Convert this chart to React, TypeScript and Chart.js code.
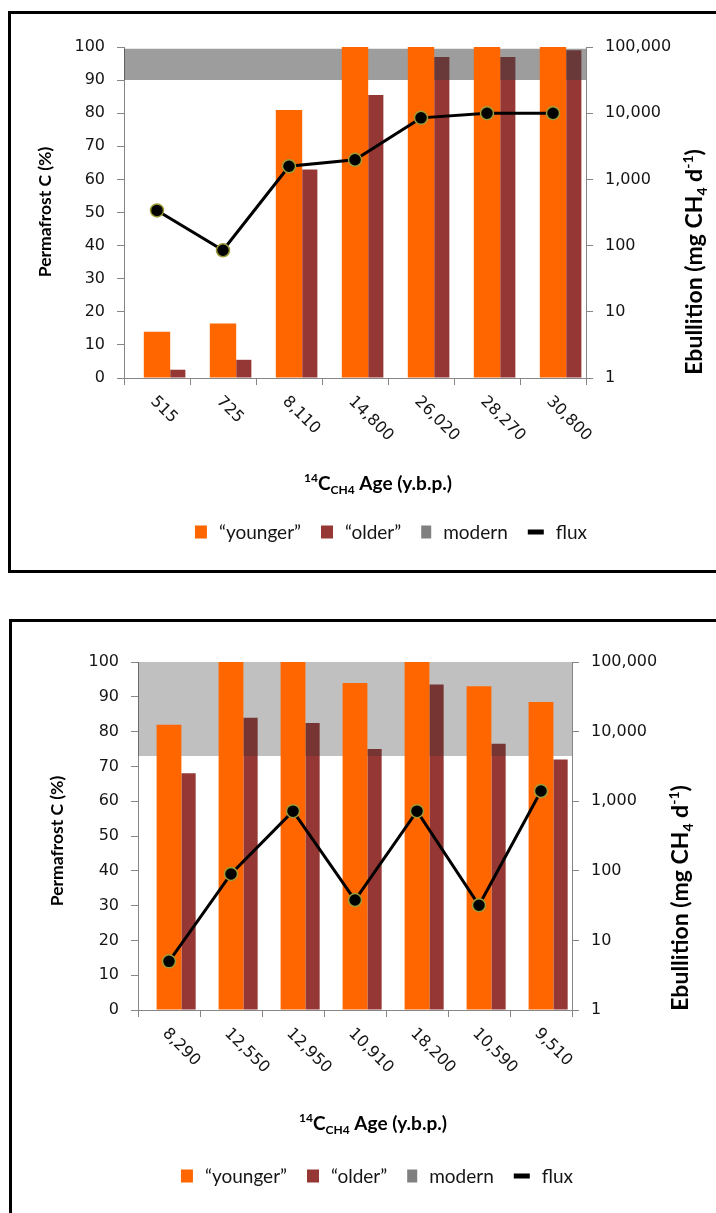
import React, { useEffect, useRef } from 'react';
import { Chart, registerables } from 'chart.js';

Chart.register(...registerables);
Chart.defaults.font.family = 'Lato';

// ---- Panel A ----
const topAges = ['515', '725', '8,110', '14,800', '26,020', '28,270', '30,800'];
const topYounger = [14, 16.5, 81, 100, 100, 100, 100];
const topOlder = [2.5, 5.5, 63, 85.5, 97, 97, 99];
const topModern = [90, 99.5]; // modern-carbon band, low / high (%)
const topFlux = [340, 85, 1580, 1980, 8500, 10000, 10000];

// ---- Panel B ----
const bottomAges = ['8,290', '12,550', '12,950', '10,910', '18,200', '10,590', '9,510'];
const bottomYounger = [82, 100, 100, 94, 100, 93, 88.5];
const bottomOlder = [68, 84, 82.5, 75, 93.5, 76.5, 72];
const bottomModern = [73, 100];
const bottomFlux = [5, 90, 720, 38, 720, 32, 1400];

const percentRange = [0, 100];
const percentStep = 10;
const fluxTicks = [1, 10, 100, 1000, 10000, 100000];
const seriesLabels = ['\u201Cyounger\u201D', '\u201Colder\u201D', 'modern', 'flux'];

const ORANGE = '#ff6600';
const MAROON = '#953735';
const AXIS = '#868686';
const TEXT = '#151515';
const TICK_FONT = 'DejaVu Sans';
const legendSwatches = [ORANGE, MAROON, '#808080', '#000000'];

type Seg = { t: string; pos?: 'sup' | 'sub' };
const xTitle: Seg[] = [{ t: '14', pos: 'sup' }, { t: 'C' }, { t: 'CH4', pos: 'sub' }, { t: ' Age (y.b.p.)' }];
const leftTitle: Seg[] = [{ t: 'Permafrost C (%)' }];
const rightTitle: Seg[] = [{ t: 'Ebullition (mg CH' }, { t: '4', pos: 'sub' }, { t: ' d' }, { t: '-1', pos: 'sup' }, { t: ')' }];

type Layout = {
  top: number;
  height: number;
  plotLeft: number;
  plotRight: number;
  plotTop: number;
  plotBottom: number;
  bandColor: string;
  leftTitle: [number, number];
  rightTitle: [number, number];
  xTitle: [number, number];
  legend: [number, number];
};

const WIDTH = 716;

const topLayout: Layout = {
  top: 0,
  height: 590,
  plotLeft: 124,
  plotRight: 586,
  plotTop: 47,
  plotBottom: 378,
  bandColor: 'rgba(60,60,60,0.5)',
  leftTitle: [45, 212],
  rightTitle: [694, 262],
  xTitle: [378, 483],
  legend: [391, 532],
};

const bottomLayout: Layout = {
  top: 600,
  height: 613,
  plotLeft: 138,
  plotRight: 572,
  plotTop: 62,
  plotBottom: 410,
  bandColor: 'rgba(45,45,45,0.3)',
  leftTitle: [57, 241],
  rightTitle: [680, 298],
  xTitle: [373, 523],
  legend: [377, 576],
};

function drawRich(
  ctx: CanvasRenderingContext2D,
  segs: Seg[],
  cx: number,
  cy: number,
  size: number,
  weight: string,
) {
  const small = Math.round(size * 0.62);
  const fontFor = (s: Seg) => `${weight} ${s.pos ? small : size}px Lato`;
  let total = 0;
  const widths = segs.map((s) => {
    ctx.font = fontFor(s);
    const w = ctx.measureText(s.t).width;
    total += w;
    return w;
  });
  let x = cx - total / 2;
  const base = cy + size * 0.35;
  ctx.textAlign = 'left';
  ctx.textBaseline = 'alphabetic';
  ctx.fillStyle = '#000';
  segs.forEach((s, i) => {
    ctx.font = fontFor(s);
    const dy = s.pos === 'sup' ? -size * 0.4 : s.pos === 'sub' ? size * 0.22 : 0;
    ctx.fillText(s.t, x, base + dy);
    x += widths[i];
  });
}

function makeDecorations(L: Layout, ages: string[]) {
  return {
    id: 'panelDecorations',
    afterDraw(chart: any) {
      const ctx: CanvasRenderingContext2D = chart.ctx;
      const xs = chart.scales.x;

      // rotated category labels
      ctx.save();
      ctx.font = `16px ${TICK_FONT}`;
      ctx.fillStyle = TEXT;
      ctx.textAlign = 'left';
      ctx.textBaseline = 'middle';
      xs.ticks.forEach((_: any, i: number) => {
        const px = xs.getPixelForTick(i);
        ctx.save();
        ctx.translate(px - 4, xs.top + 21);
        ctx.rotate(Math.PI / 4);
        ctx.fillText(ages[i], 0, 0);
        ctx.restore();
      });
      ctx.restore();

      // axis titles
      ctx.save();
      drawRich(ctx, xTitle, L.xTitle[0], L.xTitle[1], 19, 'bold');
      ctx.restore();

      ctx.save();
      ctx.translate(L.leftTitle[0], L.leftTitle[1]);
      ctx.rotate(-Math.PI / 2);
      drawRich(ctx, leftTitle, 0, 0, 17.5, 'bold');
      ctx.restore();

      ctx.save();
      ctx.translate(L.rightTitle[0], L.rightTitle[1]);
      ctx.rotate(-Math.PI / 2);
      drawRich(ctx, rightTitle, 0, 0, 23, 'bold');
      ctx.restore();

      // legend
      ctx.save();
      ctx.font = '19px Lato';
      ctx.textBaseline = 'middle';
      ctx.textAlign = 'left';
      const items = chart.data.datasets.map((ds: any, i: number) => ({
        label: ds.label as string,
        color: legendSwatches[i],
        kind: ds.type === 'line' ? 'line' : i === 2 ? 'narrow' : 'box',
      }));
      const markW = (k: string) => (k === 'line' ? 16 : k === 'narrow' ? 10 : 12);
      const gapText = 12;
      const gapItem = 20;
      let total = 0;
      items.forEach((it: any, i: number) => {
        total += markW(it.kind) + gapText + ctx.measureText(it.label).width;
        if (i < items.length - 1) total += gapItem;
      });
      let x = L.legend[0] - total / 2;
      const y = L.legend[1];
      items.forEach((it: any) => {
        const w = markW(it.kind);
        ctx.fillStyle = it.color;
        if (it.kind === 'line') ctx.fillRect(x, y - 2.5, w, 5);
        else ctx.fillRect(x, y - 6.5, w, 13);
        ctx.fillStyle = TEXT;
        ctx.fillText(it.label, x + w + gapText, y + 1);
        x += w + gapText + ctx.measureText(it.label).width + gapItem;
      });
      ctx.restore();
    },
  };
}

function buildConfig(
  ages: string[],
  younger: number[],
  older: number[],
  modern: number[],
  flux: number[],
  L: Layout,
): any {
  const youngerPct = 0.4;
  const olderPct = 0.23;
  // older bars sit flush against the right side of the younger bars
  const olderShift = (youngerPct + olderPct) / 2;
  const n = ages.length;
  const grid = { drawOnChartArea: false, drawTicks: true, tickLength: 7, color: AXIS };
  const border = { color: AXIS, width: 1 };
  const tickFont = { family: TICK_FONT, size: 16 };
  return {
    type: 'bar',
    data: {
      labels: ages,
      datasets: [
        {
          type: 'bar',
          label: seriesLabels[0],
          data: younger,
          xAxisID: 'x',
          yAxisID: 'y',
          backgroundColor: ORANGE,
          grouped: false,
          categoryPercentage: 1,
          barPercentage: youngerPct,
          order: 1,
        },
        {
          type: 'bar',
          label: seriesLabels[1],
          data: older.map((v, i) => ({ x: i + olderShift, y: v })),
          xAxisID: 'xo',
          yAxisID: 'y',
          backgroundColor: MAROON,
          grouped: false,
          categoryPercentage: 1,
          barPercentage: olderPct,
          order: 3,
        },
        {
          type: 'bar',
          label: seriesLabels[2],
          data: ages.map(() => [modern[0], modern[1]]),
          xAxisID: 'x',
          yAxisID: 'y',
          backgroundColor: L.bandColor,
          grouped: false,
          categoryPercentage: 1,
          barPercentage: 1,
          inflateAmount: 0,
          order: 2,
        },
        {
          type: 'line',
          label: seriesLabels[3],
          data: flux,
          xAxisID: 'x',
          yAxisID: 'y2',
          borderColor: '#000',
          borderWidth: 3,
          tension: 0,
          pointRadius: 6.5,
          pointBackgroundColor: '#000',
          pointBorderColor: '#9c9c3a',
          pointBorderWidth: 1.5,
          order: 0,
        },
      ],
    },
    options: {
      responsive: false,
      animation: false,
      devicePixelRatio: 1,
      layout: { padding: { top: L.plotTop, left: 0, right: 0, bottom: 0 } },
      plugins: { legend: { display: false }, tooltip: { enabled: false } },
      scales: {
        x: {
          type: 'category',
          position: 'bottom',
          offset: true,
          grid: { ...grid, offset: true },
          border,
          ticks: { display: false },
          afterFit: (s: any) => {
            s.height = L.height - L.plotBottom;
          },
        },
        xo: {
          type: 'linear',
          display: false,
          offset: false,
          grid: { offset: false },
          min: -0.5,
          max: n - 0.5,
          afterBuildTicks: (s: any) => {
            s.ticks = ages.map((_, i) => ({ value: i }));
          },
        },
        y: {
          type: 'linear',
          position: 'left',
          min: percentRange[0],
          max: percentRange[1],
          grid,
          border,
          ticks: { stepSize: percentStep, padding: 12, color: TEXT, font: tickFont },
          afterFit: (s: any) => {
            s.width = L.plotLeft;
          },
        },
        y2: {
          type: 'logarithmic',
          position: 'right',
          min: fluxTicks[0],
          max: fluxTicks[fluxTicks.length - 1],
          grid,
          border,
          afterBuildTicks: (s: any) => {
            s.ticks = fluxTicks.map((v) => ({ value: v }));
          },
          ticks: {
            padding: 12,
            color: TEXT,
            font: tickFont,
            callback: (v: any) => Number(v).toLocaleString('en-US'),
          },
          afterFit: (s: any) => {
            s.width = WIDTH - L.plotRight;
          },
        },
      },
    },
    plugins: [makeDecorations(L, ages)],
  };
}

function Panel(props: {
  ages: string[];
  younger: number[];
  older: number[];
  modern: number[];
  flux: number[];
  layout: Layout;
}) {
  const ref = useRef<HTMLCanvasElement | null>(null);
  const { ages, younger, older, modern, flux, layout } = props;
  useEffect(() => {
    if (!ref.current) return;
    const chart = new Chart(ref.current, buildConfig(ages, younger, older, modern, flux, layout));
    return () => chart.destroy();
  }, []);
  return (
    <canvas
      ref={ref}
      width={WIDTH}
      height={layout.height}
      style={{ position: 'absolute', left: 0, top: layout.top, width: WIDTH, height: layout.height }}
    />
  );
}

export default function App() {
  return (
    <div
      style={{
        position: 'absolute',
        left: 0,
        top: 0,
        width: WIDTH,
        height: 1213,
        overflow: 'hidden',
        background: '#ffffff',
      }}
    >
      <div style={{ position: 'absolute', left: 8, top: 11, width: 760, height: 556, border: '3px solid #000' }} />
      <div style={{ position: 'absolute', left: 9, top: 619, width: 760, height: 700, border: '3px solid #000' }} />
      <Panel ages={topAges} younger={topYounger} older={topOlder} modern={topModern} flux={topFlux} layout={topLayout} />
      <Panel
        ages={bottomAges}
        younger={bottomYounger}
        older={bottomOlder}
        modern={bottomModern}
        flux={bottomFlux}
        layout={bottomLayout}
      />
    </div>
  );
}
